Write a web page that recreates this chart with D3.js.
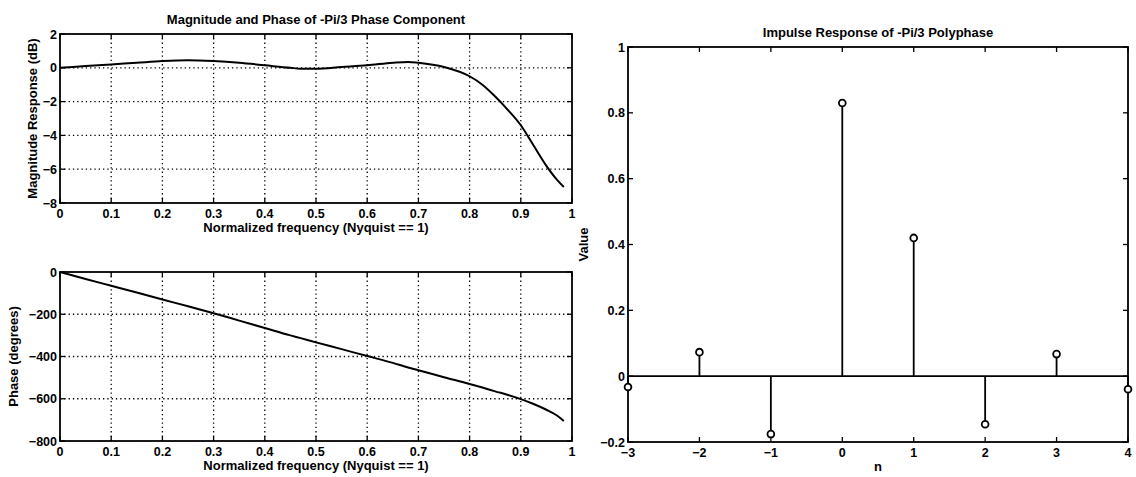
<!DOCTYPE html>
<html>
<head>
<meta charset="utf-8">
<script src="https://cdn.jsdelivr.net/npm/d3@7"></script>
<style>
	body { margin: 0; background: #fff; }
	svg { display: block; font-family: "Liberation Sans", Arial, sans-serif; font-weight: bold; }
	.grid line { stroke: #000; stroke-width: 1.3; stroke-dasharray: 1.3 3; }
</style>
</head>
<body>
<svg id="chart" width="1136" height="477"></svg>
<script>
// frequency grid for the two left plots (Nyquist == 1)
const freq = [0, 0.05, 0.1, 0.15, 0.2, 0.25, 0.3, 0.35, 0.4, 0.45, 0.47, 0.5, 0.55, 0.6, 0.65, 0.68, 0.7, 0.75, 0.8, 0.825, 0.85, 0.875, 0.9, 0.925, 0.95, 0.97, 0.984];
const magDb = [0, 0.1, 0.2, 0.3, 0.4, 0.45, 0.4, 0.3, 0.15, 0.0, -0.05, -0.05, 0.05, 0.15, 0.3, 0.35, 0.3, 0.05, -0.5, -1.0, -1.7, -2.5, -3.4, -4.6, -5.8, -6.6, -7.05];
const phaseDeg = [0, -33, -65, -97, -130, -162, -195, -230, -265, -300, -313, -333, -365, -398, -430, -452, -465, -498, -530, -547, -565, -582, -602, -625, -652, -678, -705];

// impulse response of the polyphase component
const taps = [-3, -2, -1, 0, 1, 2, 3, 4];
const tapValues = [-0.033, 0.073, -0.176, 0.83, 0.42, -0.146, 0.067, -0.04];

const freqTicks = [0, 0.1, 0.2, 0.3, 0.4, 0.5, 0.6, 0.7, 0.8, 0.9, 1];
const magTicks = [2, 0, -2, -4, -6, -8];
const phaseTicks = [0, -200, -400, -600, -800];
const valueTicks = [-0.2, 0, 0.2, 0.4, 0.6, 0.8, 1];

const svg = d3.select('#chart');
const fmt = d => d3.format('')(d).replace('-', '\u2013');

function frame(g, x, y, opt) {
	const [x0, x1] = x.range();
	const [y0, y1] = y.range();
	if (opt.grid) {
		const grid = g.append('g').classed('grid', true);
		grid.selectAll('line.v').data(opt.xTicks.slice(1, -1)).enter().append('line')
			.attr('x1', d => x(d)).attr('x2', d => x(d)).attr('y1', y0).attr('y2', y1);
		grid.selectAll('line.h').data(opt.yTicks.filter(d => d !== y.domain()[0] && d !== y.domain()[1])).enter().append('line')
			.attr('x1', x0).attr('x2', x1).attr('y1', d => y(d)).attr('y2', d => y(d));
	}
	// inward ticks on every side
	const tl = 5;
	const tk = g.append('g').attr('stroke', '#000').attr('stroke-width', 1.3);
	opt.xTicks.forEach(d => {
		tk.append('line').attr('x1', x(d)).attr('x2', x(d)).attr('y1', y0).attr('y2', y0 - tl);
		tk.append('line').attr('x1', x(d)).attr('x2', x(d)).attr('y1', y1).attr('y2', y1 + tl);
	});
	opt.yTicks.forEach(d => {
		tk.append('line').attr('x1', x0).attr('x2', x0 + tl).attr('y1', y(d)).attr('y2', y(d));
		tk.append('line').attr('x1', x1).attr('x2', x1 - tl).attr('y1', y(d)).attr('y2', y(d));
	});
	g.append('rect').attr('x', x0).attr('y', y1).attr('width', x1 - x0).attr('height', y0 - y1)
		.attr('fill', 'none').attr('stroke', '#000').attr('stroke-width', 1.8);
	g.append('g').attr('font-size', 12.5).attr('text-anchor', 'middle')
		.selectAll('text').data(opt.xTicks).enter().append('text')
		.attr('x', d => x(d)).attr('y', y0 + 15).text(fmt);
	g.append('g').attr('font-size', 12.5).attr('text-anchor', 'end')
		.selectAll('text').data(opt.yTicks).enter().append('text')
		.attr('x', x0 - 3).attr('y', d => y(d) + 4.5).text(fmt);
	g.append('text').attr('x', (x0 + x1) / 2).attr('y', y0 + 29).attr('text-anchor', 'middle')
		.attr('font-size', 13).text(opt.xLabel);
	g.append('text').attr('transform', `translate(${opt.yLabelX},${(y0 + y1) / 2}) rotate(-90)`)
		.attr('text-anchor', 'middle').attr('font-size', 13).text(opt.yLabel);
	if (opt.title) {
		g.append('text').attr('x', (x0 + x1) / 2).attr('y', y1 - 10).attr('text-anchor', 'middle')
			.attr('font-size', 13).text(opt.title);
	}
}

// Magnitude plot
const xMag = d3.scaleLinear().domain([0, 1]).range([60, 572]);
const yMag = d3.scaleLinear().domain([-8, 2]).range([203, 34]);
const gMag = svg.append('g');
frame(gMag, xMag, yMag, {
	grid: true, xTicks: freqTicks, yTicks: magTicks,
	xLabel: 'Normalized frequency (Nyquist == 1)', yLabel: 'Magnitude Response (dB)', yLabelX: 37,
	title: 'Magnitude and Phase of -Pi/3 Phase Component',
});
gMag.append('path').datum(d3.zip(freq, magDb))
	.attr('fill', 'none').attr('stroke', '#000').attr('stroke-width', 2)
	.attr('d', d3.line().x(d => xMag(d[0])).y(d => yMag(d[1])).curve(d3.curveMonotoneX));

// Phase plot
const xPh = d3.scaleLinear().domain([0, 1]).range([60, 572]);
const yPh = d3.scaleLinear().domain([-800, 0]).range([441, 272]);
const gPh = svg.append('g');
frame(gPh, xPh, yPh, {
	grid: true, xTicks: freqTicks, yTicks: phaseTicks,
	xLabel: 'Normalized frequency (Nyquist == 1)', yLabel: 'Phase (degrees)', yLabelX: 18,
});
gPh.append('path').datum(d3.zip(freq, phaseDeg))
	.attr('fill', 'none').attr('stroke', '#000').attr('stroke-width', 2)
	.attr('d', d3.line().x(d => xPh(d[0])).y(d => yPh(d[1])).curve(d3.curveMonotoneX));

// Impulse response plot
const xImp = d3.scaleLinear().domain([-3, 4]).range([628, 1128]);
const yImp = d3.scaleLinear().domain([-0.2, 1]).range([442, 47]);
const gImp = svg.append('g');
frame(gImp, xImp, yImp, {
	grid: false, xTicks: taps, yTicks: valueTicks,
	xLabel: 'n', yLabel: 'Value', yLabelX: 588,
	title: 'Impulse Response of -Pi/3 Polyphase',
});
gImp.append('line').attr('x1', xImp(-3)).attr('x2', xImp(4)).attr('y1', yImp(0)).attr('y2', yImp(0))
	.attr('stroke', '#000').attr('stroke-width', 1.8);
const stems = d3.zip(taps, tapValues);
gImp.selectAll('line.stem').data(stems).enter().append('line').classed('stem', true)
	.attr('x1', d => xImp(d[0])).attr('x2', d => xImp(d[0]))
	.attr('y1', yImp(0)).attr('y2', d => yImp(d[1]))
	.attr('stroke', '#000').attr('stroke-width', 1.8);
gImp.selectAll('circle').data(stems).enter().append('circle')
	.attr('cx', d => xImp(d[0])).attr('cy', d => yImp(d[1])).attr('r', 3.4)
	.attr('fill', '#fff').attr('stroke', '#000').attr('stroke-width', 1.8);
</script>
</body>
</html>
